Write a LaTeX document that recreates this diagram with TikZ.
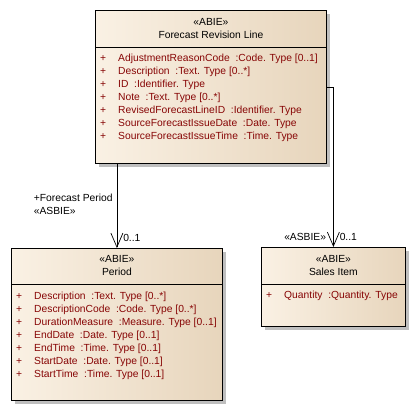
\documentclass[tikz,border=0pt]{standalone}
\usepackage{fontspec}
\setmainfont{Liberation Sans}
\usetikzlibrary{arrows.meta,positioning,calc,shadows}
\definecolor{attr}{RGB}{135,5,5}
\definecolor{boxleft}{RGB}{250,241,228}
\definecolor{boxright}{RGB}{231,213,188}
\newcommand{\attrline}[2]{\makebox[18pt][l]{+}#1\ \ :#2}

\begin{document}
\begin{tikzpicture}[
  x=1pt, y=-1pt,
  font=\fontsize{10.3}{13}\selectfont,
  cls/.style={
    rectangle, draw=black, line width=0.8pt, anchor=north west,
    left color=boxleft, right color=boxright,
    drop shadow={shadow xshift=4pt, shadow yshift=-4pt, fill=black!25, opacity=1}
  },
  head/.style={align=center, inner sep=0pt},
  attrs/.style={align=left, anchor=north west, inner sep=0pt, text=attr},
  assoc/.style={-{Straight Barb[length=14pt,width=12pt]}, line width=0.7pt},
  lbl/.style={align=left, inner sep=1pt},
]
\useasboundingbox (0,0) rectangle (416,411);

% classes
\node[cls, minimum width=231pt, minimum height=153pt] (frl) at (95,10) {};
\node[cls, minimum width=211pt, minimum height=152pt] (per) at (11,248) {};
\node[cls, minimum width=144pt, minimum height=79pt]  (sal) at (261,247) {};

\node[head] at ([yshift=-19pt]frl.north) {«ABIE»\\Forecast Revision Line};
\node[head] at ([yshift=-18pt]per.north) {«ABIE»\\Period};
\node[head] at ([yshift=-19pt]sal.north) {«ABIE»\\Sales Item};

\draw[line width=0.8pt] ([yshift=-37pt]frl.north west) -- ([yshift=-37pt]frl.north east);
\draw[line width=0.8pt] ([yshift=-36pt]per.north west) -- ([yshift=-36pt]per.north east);
\draw[line width=0.8pt] ([yshift=-37pt]sal.north west) -- ([yshift=-37pt]sal.north east);

\node[attrs] (frlat) at ([xshift=5pt,yshift=-44pt]frl.north west) {%
  \attrline{AdjustmentReasonCode}{Code. Type [0..1]}\\
  \attrline{Description}{Text. Type [0..*]}\\
  \attrline{ID}{Identifier. Type}\\
  \attrline{Note}{Text. Type [0..*]}\\
  \attrline{RevisedForecastLineID}{Identifier. Type}\\
  \attrline{SourceForecastIssueDate}{Date. Type}\\
  \attrline{SourceForecastIssueTime}{Time. Type}};
\node[attrs] (perat) at ([xshift=5pt,yshift=-43.5pt]per.north west) {%
  \attrline{Description}{Text. Type [0..*]}\\
  \attrline{DescriptionCode}{Code. Type [0..*]}\\
  \attrline{DurationMeasure}{Measure. Type [0..1]}\\
  \attrline{EndDate}{Date. Type [0..1]}\\
  \attrline{EndTime}{Time. Type [0..1]}\\
  \attrline{StartDate}{Date. Type [0..1]}\\
  \attrline{StartTime}{Time. Type [0..1]}};
\node[attrs] (salat) at ([xshift=5pt,yshift=-44pt]sal.north west) {%
  \attrline{Quantity}{Quantity. Type}};

% associations
\draw[assoc] (per.north |- frl.south) -- (per.north)
  node[pos=0.48, left=3pt, lbl] {+Forecast Period\\«ASBIE»}
  node[pos=1, anchor=south west, xshift=5pt, yshift=5pt, lbl] {0..1};
\draw[assoc] (frl.east) -| (sal.north)
  node[pos=1, anchor=south east, xshift=-6pt, yshift=5pt, lbl] {«ASBIE»}
  node[pos=1, anchor=south west, xshift=5pt, yshift=5pt, lbl] {0..1};

\end{tikzpicture}
\end{document}
